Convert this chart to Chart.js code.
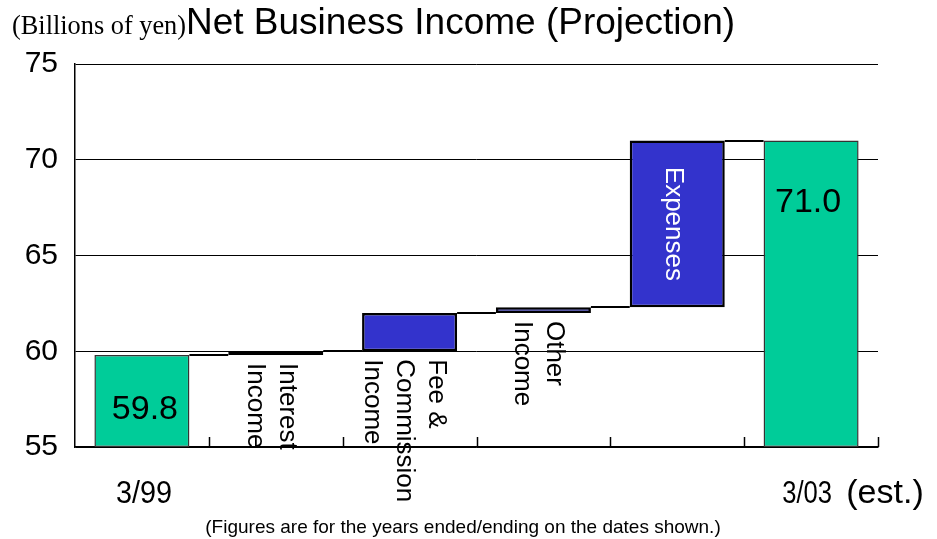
<!DOCTYPE html>
<html>
<head>
<meta charset="utf-8">
<title>Net Business Income (Projection)</title>
<script src="https://cdn.jsdelivr.net/npm/chart.js@4.4.1/dist/chart.umd.min.js"></script>
<style>
  html, body { margin: 0; padding: 0; background: #fff; }
  #wrap { width: 937px; height: 539px; }
</style>
</head>
<body>
<div id="wrap"><canvas id="incomeChart" width="937" height="539"></canvas></div>
<script>
/******************************************* data **/
// categories along the bottom
const categories = ["3/99", "Interest Income", "Fee & Commission Income", "Other Income", "Expenses", "3/03 (est.)"];
// text written under / inside each bar (rotated)
const barLabels = [[], ["Interest", "Income"], ["Fee &", "Commission", "Income"], ["Other", "Income"], ["Expenses"], []];
// billions of yen
const startIncome = 59.8;
const changes = [0.2, 2.0, 0.3, 8.7];
const endIncome = 71.0;
// y axis
const yMin = 55;
const yMax = 75;
const yStep = 5;
// bottom labels
const dateLabels = ["3/99", "3/03", "(est.)"];
const unitLabel = "(Billions of yen)";
const titleText = "Net Business Income (Projection)";
const footnote = "(Figures are for the years ended/ending on the dates shown.)";

/******************************************* build bars **/
const ranges = [[yMin, startIncome]];
let running = startIncome;
changes.forEach((c) => {
  ranges.push([running, running + c]);
  running += c;
});
ranges.push([yMin, endIncome]);

const GREEN = "#00cc99";
const BLUE = "#3333cc";
const FONT = "'Liberation Sans', Arial, sans-serif";

const isTotal = (i) => i === 0 || i === ranges.length - 1;
const barColors = ranges.map((r, i) => (isTotal(i) ? GREEN : BLUE));
const barBorders = ranges.map((r, i) => (isTotal(i) ? "#333" : "#000"));
const barBorderWidths = ranges.map((r, i) => (isTotal(i) ? 1.5 : 2.5));

/******************************************* plugins **/
// step lines between bars, tick marks, and all the text
const waterfallPlugin = {
  id: "waterfall",
  afterDatasetsDraw(chart) {
    const ctx = chart.ctx;
    const meta = chart.getDatasetMeta(0);
    const y = chart.scales.y;
    ctx.save();
    ctx.strokeStyle = "#000";
    ctx.lineWidth = 2;
    for (let i = 0; i < meta.data.length - 1; i++) {
      const a = meta.data[i];
      const b = meta.data[i + 1];
      const py = Math.round(y.getPixelForValue(ranges[i][1]));
      ctx.beginPath();
      ctx.moveTo(a.x + a.width / 2, py);
      ctx.lineTo(b.x - b.width / 2, py);
      ctx.stroke();
    }
    ctx.restore();
  },
  afterDraw(chart) {
    const ctx = chart.ctx;
    const meta = chart.getDatasetMeta(0);
    const x = chart.scales.x;
    const y = chart.scales.y;
    const area = chart.chartArea;

    ctx.save();
    // tick marks on the bottom axis, pointing up
    ctx.strokeStyle = "#000";
    ctx.lineWidth = 1.5;
    for (let i = 0; i < categories.length; i++) {
      let tx;
      if (i < categories.length - 1) {
        tx = (x.getPixelForValue(i) + x.getPixelForValue(i + 1)) / 2;
      } else {
        tx = area.right;
      }
      tx = Math.round(tx) + 0.5;
      ctx.beginPath();
      ctx.moveTo(tx, area.bottom);
      ctx.lineTo(tx, area.bottom - 10);
      ctx.stroke();
    }

    // rotated bar captions
    ctx.fillStyle = "#000";
    ctx.font = "26px " + FONT;
    barLabels.forEach((lines, i) => {
      if (!lines.length) return;
      const bar = meta.data[i];
      const bottom = y.getPixelForValue(ranges[i][0]);
      const top = y.getPixelForValue(ranges[i][1]);
      const inside = lines.length === 1;
      ctx.save();
      if (inside) {
        ctx.translate(bar.x - 4, (top + bottom) / 2);
        ctx.rotate(Math.PI / 2);
        ctx.textAlign = "center";
        ctx.fillStyle = "#fff";
      } else {
        ctx.translate(bar.x - 5, bottom + 8);
        ctx.rotate(Math.PI / 2);
        ctx.textAlign = "left";
      }
      ctx.textBaseline = "middle";
      lines.forEach((line, j) => {
        ctx.fillText(line, 0, (j - (lines.length - 1) / 2) * 32);
      });
      ctx.restore();
    });

    // values inside the two green bars
    ctx.font = "34px " + FONT;
    ctx.textAlign = "center";
    ctx.textBaseline = "middle";
    const first = meta.data[0];
    const last = meta.data[meta.data.length - 1];
    ctx.fillText(startIncome.toFixed(1), first.x + 3, y.getPixelForValue(startIncome) + 55);
    ctx.fillText(endIncome.toFixed(1), last.x - 3, y.getPixelForValue(endIncome) + 62);

    // date labels under the axis (narrow figures)
    ctx.textBaseline = "alphabetic";
    ctx.font = "32px " + FONT;
    drawNarrow(ctx, dateLabels[0], x.getPixelForValue(0) + 2, 503, 0.9, "center");
    drawNarrow(ctx, dateLabels[1], x.getPixelForValue(categories.length - 1) - 4, 503, 0.8, "center");
    ctx.font = "34px " + FONT;
    drawNarrow(ctx, dateLabels[2], 885, 503, 1, "center");

    // footnote
    ctx.font = "19px " + FONT;
    ctx.textAlign = "center";
    ctx.fillText(footnote, 463, 533);

    // title and units
    ctx.textAlign = "left";
    ctx.font = "37px " + FONT;
    ctx.fillText(titleText, 186, 34);
    ctx.font = "28px 'Liberation Serif', 'Times New Roman', serif";
    const w = ctx.measureText(unitLabel).width;
    drawNarrow(ctx, unitLabel, 12, 34, 174 / w, "left");
    ctx.restore();
  },
};

// draw text squeezed horizontally
function drawNarrow(ctx, text, px, py, sx, align) {
  ctx.save();
  ctx.translate(px, py);
  ctx.scale(sx, 1);
  ctx.textAlign = align;
  ctx.fillText(text, 0, 0);
  ctx.restore();
}

/******************************************* chart **/
const chart = new Chart(document.getElementById("incomeChart"), {
  type: "bar",
  data: {
    labels: categories,
    datasets: [
      {
        data: ranges,
        backgroundColor: barColors,
        borderColor: barBorders,
        borderWidth: barBorderWidths,
        borderSkipped: false,
        categoryPercentage: 1,
        barPercentage: 0.71,
      },
    ],
  },
  options: {
    responsive: false,
    animation: false,
    layout: { padding: { top: 64, right: 59, bottom: 92, left: 0 } },
    plugins: {
      legend: { display: false },
      tooltip: { enabled: false },
    },
    scales: {
      x: {
        grid: { display: false, drawTicks: false },
        border: { display: true, color: "#000", width: 1.5 },
        ticks: { display: false },
        afterFit: (s) => { s.height = 0; },
      },
      y: {
        min: yMin,
        max: yMax,
        ticks: {
          stepSize: yStep,
          color: "#000",
          font: { size: 30, family: FONT },
          padding: 17,
        },
        grid: { color: "#000", lineWidth: 1, drawTicks: false },
        border: { display: true, color: "#000", width: 1.5 },
        afterFit: (s) => { s.width = 75; },
      },
    },
  },
  plugins: [waterfallPlugin],
});
</script>
</body>
</html>
